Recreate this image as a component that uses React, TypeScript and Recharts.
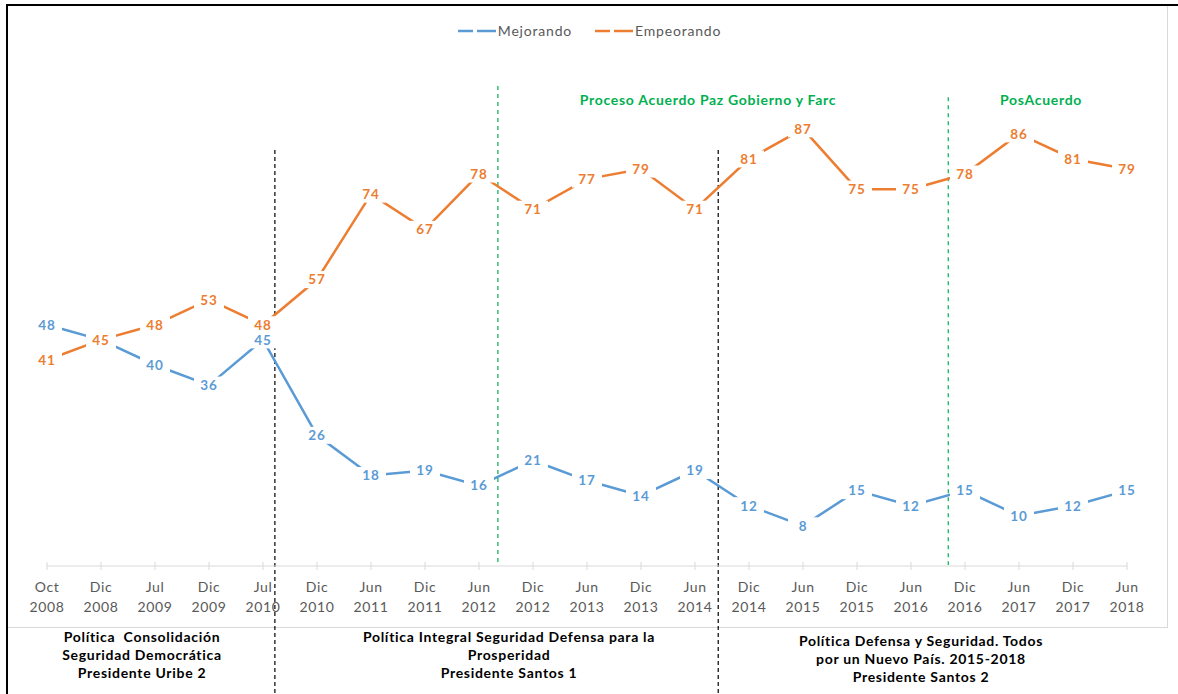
import React from 'react';
import { LineChart, Line, XAxis, YAxis, ReferenceLine, LabelList } from 'recharts';

// Periodos de medición
const months = ['Oct', 'Dic', 'Jul', 'Dic', 'Jul', 'Dic', 'Jun', 'Dic', 'Jun', 'Dic', 'Jun', 'Dic', 'Jun', 'Dic', 'Jun', 'Dic', 'Jun', 'Dic', 'Jun', 'Dic', 'Jun'];
const years = ['2008', '2008', '2009', '2009', '2010', '2010', '2011', '2011', '2012', '2012', '2013', '2013', '2014', '2014', '2015', '2015', '2016', '2016', '2017', '2017', '2018'];

// Porcentajes por serie
const mejorando = [48, 45, 40, 36, 45, 26, 18, 19, 16, 21, 17, 14, 19, 12, 8, 15, 12, 15, 10, 12, 15];
const empeorando = [41, 45, 48, 53, 48, 57, 74, 67, 78, 71, 77, 79, 71, 81, 87, 75, 75, 78, 86, 81, 79];

// Cortes entre periodos (en unidades del eje de periodos)
const cortesPolitica = [4.22, 12.43];
const cortesPaz = [8.35, 16.69];

const BLUE = '#5b9bd5';
const ORANGE = '#ed7d31';
const GREEN = '#00b050';
const GREY = '#595959';
const FONT = 'Lato, "Open Sans", sans-serif';

const data = months.map((m, i) => ({
  i,
  periodo: `${m} ${years[i]}`,
  mejorando: mejorando[i],
  empeorando: empeorando[i],
}));

const ticks = months.map((_, i) => i);

const PeriodTick = (props: any) => {
  const { x, y, payload } = props;
  const i = payload.value as number;
  return (
    <g>
      <line x1={x} x2={x} y1={y - 4} y2={y + 4} stroke="#d9d9d9" strokeWidth={1} />
      <text x={x} y={y + 26} textAnchor="middle" fill={GREY} fontSize={14} fontFamily={FONT} letterSpacing={0.6}>
        {months[i]}
      </text>
      <text x={x} y={y + 46} textAnchor="middle" fill={GREY} fontSize={14} fontFamily={FONT} letterSpacing={0.6}>
        {years[i]}
      </text>
    </g>
  );
};

const makeLabel = (color: string) => (props: any) => {
  const { x, y, value } = props;
  return (
    <g>
      <rect x={x - 15} y={y - 8.5} width={30} height={17} fill="#ffffff" />
      <text
        x={x}
        y={y}
        dy="0.36em"
        textAnchor="middle"
        fill={color}
        fontSize={13.5}
        fontWeight={700}
        fontFamily={FONT}
        letterSpacing={0.8}
      >
        {value}
      </text>
    </g>
  );
};

const series = [
  { key: 'mejorando', name: 'Mejorando', color: BLUE },
  { key: 'empeorando', name: 'Empeorando', color: ORANGE },
];

const bold: React.CSSProperties = {
  position: 'absolute',
  fontFamily: FONT,
  fontWeight: 700,
  fontSize: 14,
  letterSpacing: 0.7,
  lineHeight: '18px',
  textAlign: 'center',
  whiteSpace: 'pre',
  color: '#000',
};

export default function App() {
  return (
    <div
      style={{
        position: 'absolute',
        left: 0,
        top: 0,
        width: 1178,
        height: 694,
        background: '#fff',
        overflow: 'hidden',
      }}
    >
      {/* marco del gráfico */}
      <div style={{ position: 'absolute', left: 7, top: 5, width: 1159, height: 621, border: '1px solid #d9d9d9' }} />

      <div style={{ position: 'absolute', left: 0, top: 0 }}>
        <LineChart width={1178} height={694} data={data} margin={{ top: 63.5, right: 51, bottom: 68, left: 47 }}>
          <XAxis
            dataKey="i"
            type="number"
            domain={[0, 20]}
            ticks={ticks}
            interval={0}
            height={60}
            axisLine={{ stroke: '#d9d9d9', strokeWidth: 1 }}
            tickLine={false}
            tickSize={0}
            tickMargin={0}
            tick={<PeriodTick />}
          />
          <YAxis hide width={0} domain={[0, 100]} />
          {cortesPolitica.map((c) => (
            <ReferenceLine
              key={`p${c}`}
              segment={[{ x: c, y: 82.8 }, { x: c, y: -26 }]}
              stroke="#000"
              strokeWidth={1.2}
              strokeDasharray="4 3"
              ifOverflow="visible"
            />
          ))}
          <ReferenceLine
            segment={[{ x: cortesPaz[0], y: 95.5 }, { x: cortesPaz[0], y: 0.8 }]}
            stroke={GREEN}
            strokeWidth={1.2}
            strokeDasharray="4 4"
            ifOverflow="visible"
          />
          <ReferenceLine
            segment={[{ x: cortesPaz[1], y: 93.3 }, { x: cortesPaz[1], y: 0.2 }]}
            stroke={GREEN}
            strokeWidth={1.2}
            strokeDasharray="4 4"
            ifOverflow="visible"
          />
          {series.map((s) => (
            <Line
              key={s.key}
              type="linear"
              dataKey={s.key}
              name={s.name}
              stroke={s.color}
              strokeWidth={2.5}
              dot={false}
              isAnimationActive={false}
            >
              <LabelList dataKey={s.key} content={makeLabel(s.color)} />
            </Line>
          ))}
        </LineChart>
      </div>

      {/* leyenda */}
      <div
        style={{
          position: 'absolute',
          top: 21,
          left: 0,
          width: 1178,
          display: 'flex',
          justifyContent: 'center',
          gap: 22,
          fontFamily: FONT,
        }}
      >
        {series.map((s) => (
          <div key={s.key} style={{ display: 'flex', alignItems: 'center' }}>
            <svg width={40} height={6}>
              <line x1={1} x2={16} y1={3} y2={3} stroke={s.color} strokeWidth={2.5} />
              <line x1={20} x2={39} y1={3} y2={3} stroke={s.color} strokeWidth={2.5} />
            </svg>
            <span style={{ color: GREY, fontSize: 14, letterSpacing: 0.8, marginLeft: 1, lineHeight: '20px' }}>{s.name}</span>
          </div>
        ))}
      </div>

      {/* etapas del proceso de paz */}
      <div style={{ ...bold, color: GREEN, left: 508, width: 400, top: 91 }}>Proceso Acuerdo Paz Gobierno y Farc</div>
      <div style={{ ...bold, color: GREEN, left: 941, width: 200, top: 91 }}>PosAcuerdo</div>

      {/* políticas de seguridad por gobierno */}
      <div style={{ ...bold, left: 22, width: 240, top: 628 }}>
        {'Política  Consolidación\nSeguridad Democrática\nPresidente Uribe 2'}
      </div>
      <div style={{ ...bold, left: 309, width: 400, top: 628 }}>
        {'Política Integral Seguridad Defensa para la\nProsperidad\nPresidente Santos 1'}
      </div>
      <div style={{ ...bold, left: 721, width: 400, top: 632 }}>
        {'Política Defensa y Seguridad. Todos\npor un Nuevo País. 2015-2018\nPresidente Santos 2'}
      </div>

      {/* borde exterior */}
      <div style={{ position: 'absolute', left: 6, top: 4, width: 1172, height: 2, background: '#000' }} />
      <div style={{ position: 'absolute', left: 6, top: 4, width: 2, height: 690, background: '#000' }} />
    </div>
  );
}
